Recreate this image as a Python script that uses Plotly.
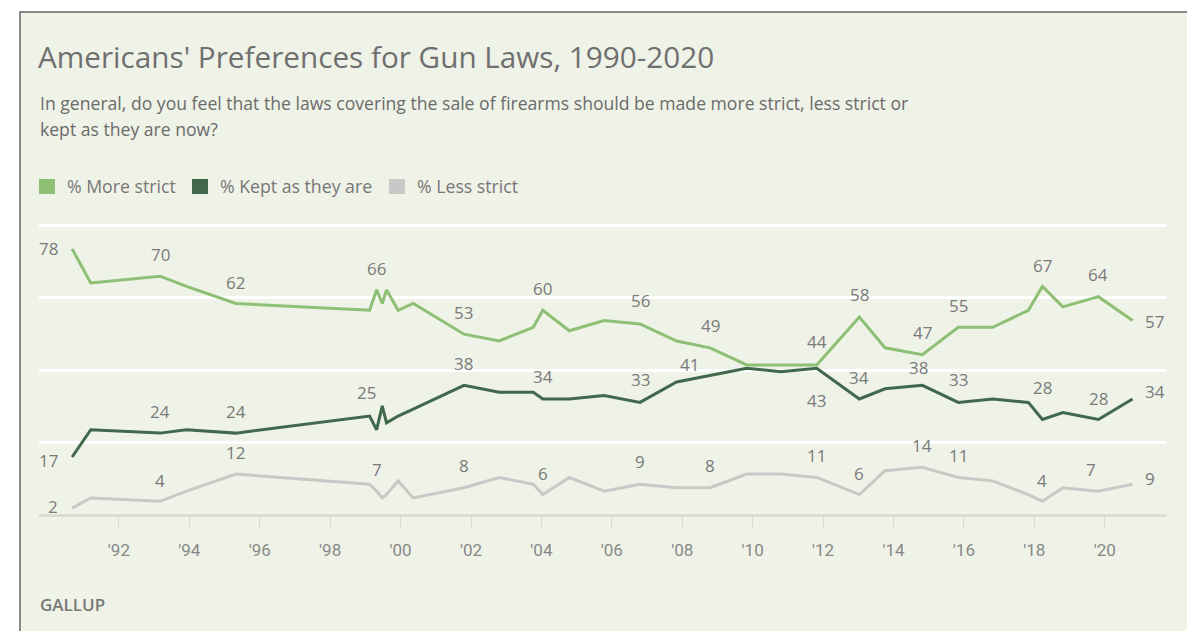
import plotly.graph_objects as go

# ---- data ----
years = [1990.67, 1991.2, 1993.17, 1993.92, 1995.32, 1999.12, 1999.32, 1999.48, 1999.6,
         1999.93, 2000.36, 2001.8, 2002.8, 2003.77, 2004.04, 2004.79, 2005.78, 2006.8,
         2007.84, 2008.79, 2009.83, 2010.8, 2011.82, 2013.03, 2013.76, 2014.82, 2015.84,
         2016.82, 2017.83, 2018.23, 2018.81, 2019.82, 2020.79]
more_strict = [78, 68, 70, 67, 62, 60, 66, 62, 66, 60, 62, 53, 51, 55, 60, 54, 57, 56,
               51, 49, 44, 44, 44, 58, 49, 47, 55, 55, 60, 67, 61, 64, 57]
kept_same = [17, 25, 24, 25, 24, 29, 25, 32, 27, 29, 31, 38, 36, 36, 34, 34, 35, 33,
             39, 41, 43, 42, 43, 34, 37, 38, 33, 34, 33, 28, 30, 28, 34]
less_strict = [2, 5, 4, 7, 12, 9, 7, 5, 6, 10, 5, 8, 11, 9, 6, 11, 7, 9,
               8, 8, 12, 12, 11, 6, 13, 14, 11, 10, 6, 4, 8, 7, 9]
series_names = ["% More strict", "% Kept as they are", "% Less strict"]
tick_years = [1992, 1994, 1996, 1998, 2000, 2002, 2004, 2006, 2008, 2010, 2012, 2014, 2016, 2018, 2020]
tick_labels = ["'92", "'94", "'96", "'98", "'00", "'02", "'04", "'06", "'08", "'10", "'12", "'14", "'16", "'18", "'20"]
grid_values = [0, 21.25, 42.5, 63.75, 85]

# ---- style ----
BG = "#eff2e7"
GREEN = "#8dc074"
DARK = "#41684a"
GREY = "#c8c9c6"
LABEL = "#7a7a7a"
FONT = "Open Sans"
W_FIG, H_FIG = 1187, 631
ML, MR, MT, MB = 39, 21, 212, 116
PW = W_FIG - ML - MR
PH = H_FIG - MT - MB
Y_MAX = 85.0 * PH / 290.0


def px(x):
    return (x - ML) / PW


def py(y):
    return (H_FIG - MB - y) / PH


fig = go.Figure()
for vals, color, name in [(less_strict, GREY, series_names[2]),
                          (kept_same, DARK, series_names[1]),
                          (more_strict, GREEN, series_names[0])]:
    fig.add_trace(go.Scatter(x=years, y=vals, mode="lines", name=name,
                             line=dict(color=color, width=3), hoverinfo="skip",
                             showlegend=False))

# point labels: (index, xshift, yshift, mode)
label_specs = {
    "more": [(0, 0, 0, "L"), (2, 0, 22, "C"), (4, 0, 21, "C"), (6, 0, 21, "C"), (11, 0, 22, "C"),
             (14, 0, 22, "C"), (17, 0, 23, "C"), (19, 0, 22, "C"), (22, 0, 23, "C"), (23, 0, 23, "C"),
             (25, 0, 22, "C"), (26, 0, 22, "C"), (29, 0, 21, "C"), (31, 0, 22, "C"), (32, 0, -1, "R")],
    "kept": [(0, 0, -3, "L"), (2, 0, 22, "C"), (4, 0, 22, "C"), (6, -10, 37, "C"), (11, 0, 22, "C"),
             (14, 0, 23, "C"), (17, 0, 23, "C"), (19, -21, 11, "C"), (22, 0, -32, "C"), (23, 0, 22, "C"),
             (25, -4, 18, "C"), (26, 0, 23, "C"), (29, 0, 32, "C"), (31, 0, 21, "C"), (32, 0, 8, "R")],
    "less": [(0, 0, 2, "L"), (2, 0, 21, "C"), (4, 0, 22, "C"), (6, 0, 22, "C"), (11, 0, 22, "C"),
             (14, 0, 21, "C"), (17, 0, 23, "C"), (19, 0, 22, "C"), (22, 0, 22, "C"), (23, 0, 21, "C"),
             (25, 0, 22, "C"), (26, 0, 22, "C"), (29, 0, 21, "C"), (31, -7, 22, "C"), (32, 0, 6, "R")],
}
series_vals = {"more": more_strict, "kept": kept_same, "less": less_strict}
annotations = []
for key, specs in label_specs.items():
    vals = series_vals[key]
    for i, xs, ys, mode in specs:
        if mode == "L":
            xanchor, xs = "right", xs - 12
        elif mode == "R":
            xanchor, xs = "left", xs + 10
        else:
            xanchor = "center"
        annotations.append(dict(x=years[i], y=vals[i], xref="x", yref="y", text=str(vals[i]),
                                showarrow=False, xanchor=xanchor, yanchor="middle",
                                xshift=xs, yshift=ys,
                                font=dict(family=FONT, size=17, color=LABEL)))

# subtitle
for text, yy in [("In general, do you feel that the laws covering the sale of firearms should be made more strict, less strict or", 103),
                 ("kept as they are now?", 129)]:
    annotations.append(dict(x=px(38), y=py(yy), xref="paper", yref="paper", text=text, showarrow=False,
                            xanchor="left", yanchor="middle",
                            font=dict(family=FONT, size=17.6, color="#6b6b6b")))

# legend
shapes = []
legend_items = [(series_names[0], GREEN, 47, 65), (series_names[1], DARK, 200, 218),
                (series_names[2], GREY, 397, 415)]
for name, color, cx, tx in legend_items:
    shapes.append(dict(type="rect", xref="paper", yref="paper",
                       x0=px(cx - 8), x1=px(cx + 8), y0=py(194), y1=py(179),
                       fillcolor=color, line=dict(width=0), layer="above"))
    annotations.append(dict(x=px(tx), y=py(186), xref="paper", yref="paper", text=name, showarrow=False,
                            xanchor="left", yanchor="middle",
                            font=dict(family=FONT, size=17.7, color="#777777")))

# source
annotations.append(dict(x=px(38), y=py(604), xref="paper", yref="paper", text="GALLUP", showarrow=False,
                        xanchor="left", yanchor="middle",
                        font=dict(family=FONT, size=17, color="#777777", weight=600)))

# background card with border on top/left
shapes.insert(0, dict(type="rect", xref="paper", yref="paper",
                      x0=px(20), x1=px(1200), y0=py(650), y1=py(12),
                      fillcolor=BG, line=dict(color="#666666", width=1.5), layer="below"))

fig.update_layout(
    width=W_FIG, height=H_FIG,
    margin=dict(l=ML, r=MR, t=MT, b=MB),
    paper_bgcolor="white",
    plot_bgcolor="rgba(0,0,0,0)",
    title=dict(text="Americans' Preferences for Gun Laws, 1990-2020", xref="container", yref="container",
               x=38 / W_FIG, y=1 - 58 / H_FIG, xanchor="left", yanchor="middle",
               font=dict(family=FONT, size=29.7, color="#6f6f6f")),
    xaxis=dict(range=[1989.73, 2021.74], tickmode="array", tickvals=tick_years, ticktext=tick_labels,
               ticks="outside", ticklen=13, tickcolor="#d9dbd2", tickwidth=1, ticklabelstandoff=7,
               showgrid=False, zeroline=False, showline=False,
               tickfont=dict(family="Liberation Sans Narrow, Roboto", size=17, color="#888888"),
               fixedrange=True),
    yaxis=dict(range=[0, Y_MAX], tickmode="array", tickvals=grid_values,
               showticklabels=False, gridcolor="white", gridwidth=3,
               zeroline=True, zerolinecolor="#dcded5", zerolinewidth=3, showline=False, fixedrange=True),
    showlegend=False,
    annotations=annotations,
    shapes=shapes,
)

fig.write_html("out.html")
